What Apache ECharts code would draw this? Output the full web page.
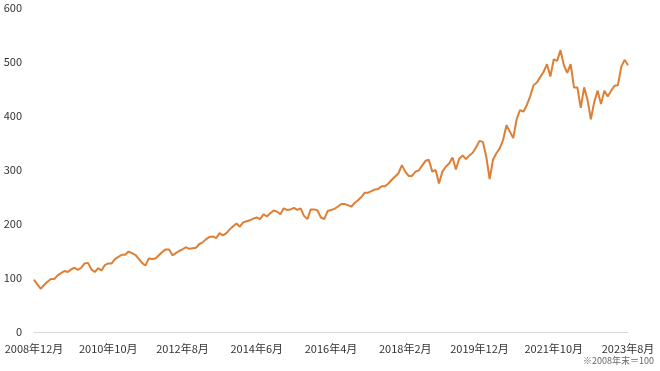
<!DOCTYPE html>
<html>
<head>
<meta charset="utf-8">
<script src="https://cdn.jsdelivr.net/npm/echarts@6/dist/echarts.min.js"></script>
<style>
html,body{margin:0;padding:0;background:#fff;}
#chart{width:660px;height:371px;}
</style>
</head>
<body>
<div id="chart"></div>
<script>
// Monthly index, 2008年12月 .. 2023年8月 (2008年末 = 100)
var startYear = 2008, startMonth = 12, monthCount = 177;
var values = [
  97, 88, 80, 87, 93, 98, 98, 105, 109, 113,
  111, 116, 119, 115, 119, 127, 128, 116, 111, 118,
  114, 124, 127, 127, 135, 139, 143, 143, 149, 146,
  143, 136, 128, 123, 136, 135, 136, 142, 148, 153,
  153, 142, 146, 150, 153, 157, 154, 155, 156, 163,
  166, 172, 176, 177, 174, 183, 179, 183, 190, 196,
  201, 195, 203, 205, 207, 210, 212, 209, 218, 214,
  220, 225, 223, 218, 229, 226, 227, 230, 226, 229,
  215, 209, 227, 227, 225, 212, 209, 224, 226, 228,
  232, 237, 237, 235, 232, 239, 244, 250, 258, 258,
  261, 264, 265, 270, 270, 275, 282, 288, 294, 309,
  297, 289, 289, 297, 299, 308, 317, 319, 297, 300,
  275, 297, 306, 312, 323, 301, 321, 327, 320, 327,
  332, 342, 354, 352, 325, 283, 319, 331, 340, 356,
  383, 371, 359, 394, 411, 408, 420, 436, 457, 462,
  472, 482, 496, 473, 505, 502, 522, 494, 480, 496,
  453, 453, 415, 453, 430, 394, 426, 447, 422, 447,
  436, 447, 456, 457, 491, 504, 494
];
var yTicks = [0, 100, 200, 300, 400, 500, 600];
var noteText = '※2008年末＝100';

var categories = [];
for (var k = 0; k < monthCount; k++) {
  var m = startMonth - 1 + k;
  var y = startYear + Math.floor(m / 12);
  categories.push(y + '年' + (m % 12 + 1) + '月');
}

var chart = echarts.init(document.getElementById('chart'));
var font = '"Noto Sans CJK JP", "Noto Sans", sans-serif';
chart.setOption({
  animation: false,
  backgroundColor: '#ffffff',
  grid: { left: 34, right: 32, top: 8, bottom: 39, containLabel: false },
  xAxis: {
    type: 'category',
    data: categories,
    boundaryGap: false,
    axisLine: { show: true, lineStyle: { color: '#d9d9d9', width: 1 } },
    axisTick: { show: false },
    axisLabel: {
      interval: 21,
      margin: 11,
      color: '#333333',
      fontSize: 11,
      fontFamily: font,
      showMaxLabel: true
    },
    splitLine: { show: false }
  },
  yAxis: {
    type: 'value',
    min: yTicks[0],
    max: yTicks[yTicks.length - 1],
    interval: 100,
    axisLine: { show: false },
    axisTick: { show: false },
    splitLine: { show: false },
    axisLabel: { color: '#333333', fontSize: 11, fontFamily: font, margin: 12 }
  },
  graphic: [{
    type: 'text',
    right: 6,
    top: 356,
    style: { text: noteText, fill: '#666666', fontSize: 9, fontFamily: font }
  }],
  series: [{
    type: 'line',
    data: values,
    showSymbol: false,
    symbol: 'none',
    lineStyle: { color: '#DE7F36', width: 2 },
    itemStyle: { color: '#DE7F36' }
  }]
});
</script>
</body>
</html>
